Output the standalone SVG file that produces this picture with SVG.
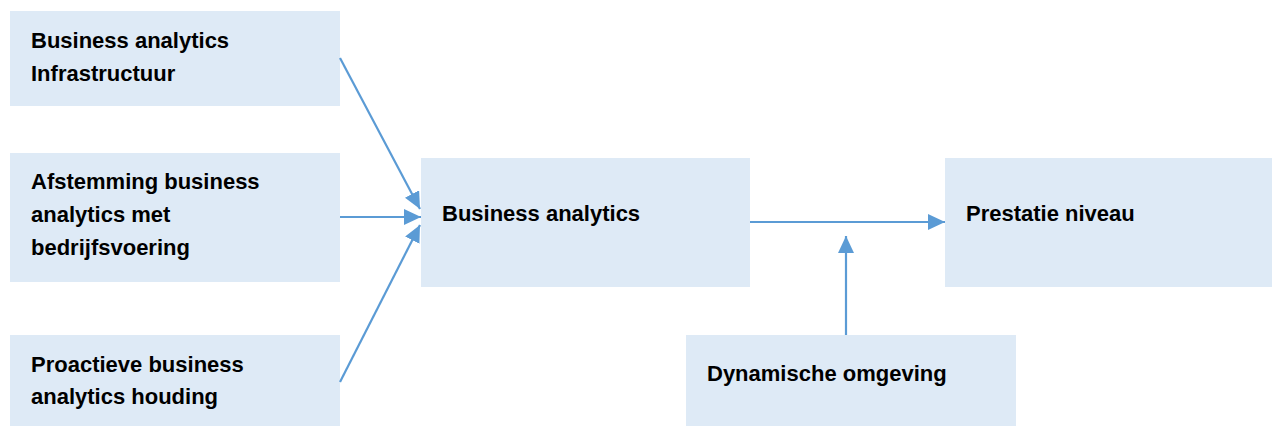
<svg xmlns="http://www.w3.org/2000/svg" width="1276" height="426" viewBox="0 0 1276 426">
  <style>
    .box { fill: #DEEAF6; }
    .lbl { font-family: "Liberation Sans", Arial, sans-serif; font-weight: bold; font-size: 22px; fill: #000000; }
    .conn { stroke: #5B9BD5; stroke-width: 2.2; fill: none; marker-end: url(#arrow); }
  </style>
  <defs>
    <marker id="arrow" markerUnits="userSpaceOnUse" markerWidth="17" markerHeight="16" refX="17" refY="8" orient="auto">
      <path d="M0,0 L17,8 L0,16 Z" fill="#5B9BD5"/>
    </marker>
  </defs>

  <rect width="1276" height="426" fill="#FFFFFF"/>

  <g id="node-infrastructuur">
    <rect class="box" x="10" y="11" width="330" height="95"/>
    <text class="lbl" x="31" y="48">Business analytics</text>
    <text class="lbl" x="31" y="81">Infrastructuur</text>
  </g>

  <g id="node-afstemming">
    <rect class="box" x="10" y="153" width="330" height="129"/>
    <text class="lbl" x="31" y="189">Afstemming business</text>
    <text class="lbl" x="31" y="222">analytics met</text>
    <text class="lbl" x="31" y="255">bedrijfsvoering</text>
  </g>

  <g id="node-proactief">
    <rect class="box" x="10" y="335" width="330" height="91"/>
    <text class="lbl" x="31" y="372">Proactieve business</text>
    <text class="lbl" x="31" y="404">analytics houding</text>
  </g>

  <g id="node-business-analytics">
    <rect class="box" x="421" y="158" width="329" height="129"/>
    <text class="lbl" x="442" y="221">Business analytics</text>
  </g>

  <g id="node-prestatie">
    <rect class="box" x="945" y="158" width="327" height="129"/>
    <text class="lbl" x="966" y="221">Prestatie niveau</text>
  </g>

  <g id="node-dynamisch">
    <rect class="box" x="686" y="335" width="330" height="91"/>
    <text class="lbl" x="707" y="381">Dynamische omgeving</text>
  </g>

  <g id="connectors">
    <line class="conn" x1="340" y1="58" x2="420" y2="209"/>
    <line class="conn" x1="340" y1="217" x2="421" y2="217"/>
    <line class="conn" x1="340" y1="382" x2="420" y2="225"/>
    <line class="conn" x1="750" y1="222" x2="945" y2="222"/>
    <line class="conn" x1="846" y1="335" x2="846" y2="236"/>
  </g>
</svg>
